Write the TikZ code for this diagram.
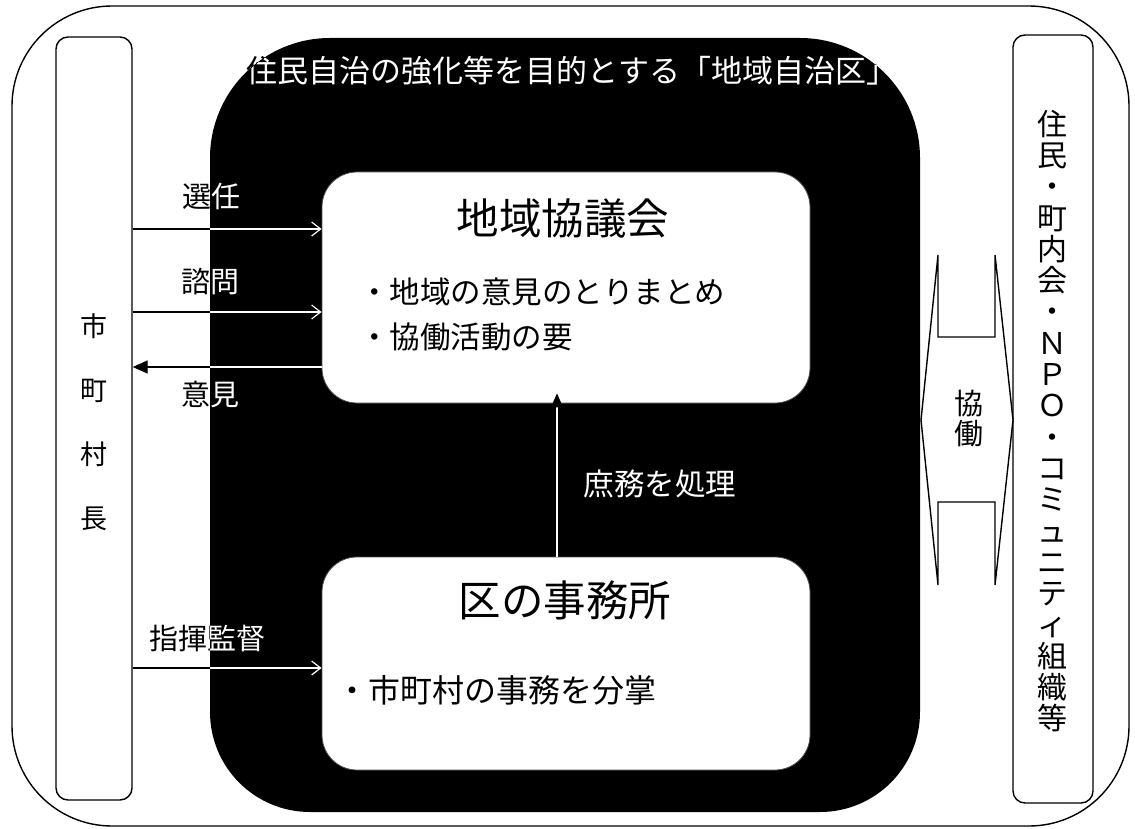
\documentclass[tikz,border=0pt]{standalone}
\usepackage{fontspec}
\setmainfont{Noto Sans CJK JP}
\usetikzlibrary{arrows.meta}

\newcommand\fs[2]{\fontsize{#1}{#2}\selectfont}

\tikzset{
  frame/.style={draw=black, line width=1.4pt, rounded corners=12pt, inner sep=0pt},
  wbox/.style={fill=white, draw=black!70, line width=0.8pt, rounded corners=35pt, inner sep=0pt},
  vtext/.style={align=center, inner sep=0pt},
  lbl/.style={font=\fs{29}{34}, inner sep=0pt},
  ttl/.style={font=\fs{31}{36}, inner sep=0pt},
  oarrow/.style={line width=1.2pt, -{Straight Barb[length=9pt,width=14pt]}},
  farrow/.style={line width=1.4pt, -{Triangle[length=15pt,width=13pt]}},
  coop/.style={fill=white, draw=black, line width=1.4pt, line join=miter}
}

% outline of the black district area
\newcommand\areapath{(210,430) [rounded corners=120pt] -- (210,38) -- (920,38) -- (920,430)
  [rounded corners=100pt] -- (920,812) -- (210,812) -- cycle}

% layer drawn twice: black on white ground, white on the black area
\newcommand\overlaylayer[2]{%
  \node[ttl, text=#1] (title#2) at (572,71) {住民自治の強化等を目的とする「地域自治区」};
  \node[lbl, text=#1] (sen#2) at (211,196) {選任};
  \node[lbl, text=#1] (shi#2) at (210,282) {諮問};
  \node[lbl, text=#1] (iken#2) at (210,394) {意見};
  \node[lbl, text=#1] (shiki#2) at (207,638) {指揮監督};
  \draw[oarrow, draw=#1] (lbox.east |- ySen) -- (box1.west |- ySen);
  \draw[oarrow, draw=#1] (lbox.east |- yShi) -- (box1.west |- yShi);
  \draw[farrow, draw=#1] (box1.west |- yIken) -- (lbox.east |- yIken);
  \draw[oarrow, draw=#1] (lbox.east |- yShiki) -- (box2.west |- yShiki);
}

\begin{document}
\begin{tikzpicture}[x=1pt,y=-1pt]
\useasboundingbox (0,0) rectangle (1135,829);

% outer frame
\draw[line width=1.4pt, rounded corners=100pt] (12,6) rectangle (1129,826);

% side boxes
\node[frame, minimum width=76pt, minimum height=763pt] (lbox) at (94,418.5) {};
\node[vtext, font=\fs{27}{64}] (lboxtext) at (94,422) {市\\町\\村\\長};
\node[frame, minimum width=80pt, minimum height=768pt] (rbox) at (1053,419) {};
\node[vtext, font=\fs{30}{31.3}] (rboxtext) at (1052,421)
  {住\\民\\・\\町\\内\\会\\・\\Ｎ\\Ｐ\\Ｏ\\・\\コ\\ミ\\ュ\\ニ\\テ\\ィ\\組\\織\\等};

% black area
\fill[black] \areapath;

% white boxes
\node[wbox, minimum width=488pt, minimum height=231pt] (box1) at (566,287.5) {};
\node[wbox, minimum width=488pt, minimum height=213pt] (box2) at (566,663.5) {};
\node[font=\fs{42.5}{48}, inner sep=0pt] (box1title) at (563,218) {地域協議会};
\node[anchor=west, font=\fs{30.5}{45}, align=left, inner sep=0pt] (box1items) at (359,314) {・地域の意見のとりまとめ\\・協働活動の要};
\node[font=\fs{42.5}{48}, inner sep=0pt] (box2title) at (565,600) {区の事務所};
\node[anchor=west, font=\fs{32}{36}, inner sep=0pt] (box2item) at (336,690) {・市町村の事務を分掌};

% arrow heights
\coordinate (ySen) at (0,229);
\coordinate (yShi) at (0,312);
\coordinate (yIken) at (0,367);
\coordinate (yShiki) at (0,668);
\coordinate (xUp) at (557,0);

\overlaylayer{black}{b}
\begin{scope}
  \clip \areapath;
  \overlaylayer{white}{w}
\end{scope}

% office -> council
\draw[white, line width=1.3pt, -{Triangle[color=black,length=14pt,width=12pt]}, shorten >=-10pt]
  (box2.north -| xUp) -- (box1.south -| xUp);
\node[font=\fs{30.5}{34}, text=white, inner sep=0pt] (shomu) at (660,484) {庶務を処理};

% cooperation double arrow
\draw[coop] (921,420) -- (938,255) -- (938,337) -- (995,337) -- (995,255) -- (1013,420)
  -- (995,585) -- (995,502) -- (938,502) -- (938,585) -- cycle;
\node[vtext, font=\fs{29}{30}] (kyodo) at (969,419) {協\\働};
\end{tikzpicture}
\end{document}
